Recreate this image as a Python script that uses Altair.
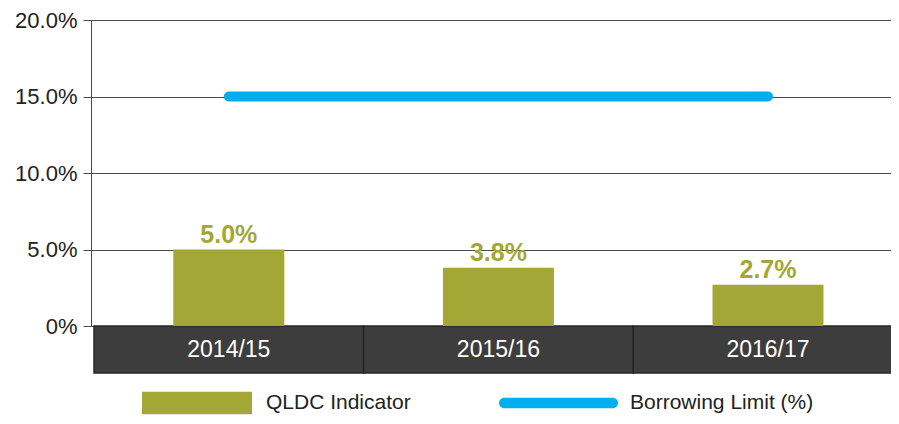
import altair as alt
import pandas as pd

years = ["2014/15", "2015/16", "2016/17"]
indicator = [5.0, 3.8, 2.7]
limit = [15.0, 15.0, 15.0]
bar_series = "QLDC Indicator"
line_series = "Borrowing Limit (%)"

OLIVE = "#a3a736"
BLUE = "#00aeef"
DARK = "#3d3d3d"
TEXT = "#222222"
FONT = "Liberation Sans"

idx = list(range(len(years)))
df = pd.DataFrame({
    "year": years,
    "pos": idx,
    "start": [i - 0.5 for i in idx],
    "end": [i + 0.5 for i in idx],
    "indicator": indicator,
    "limit": limit,
    "bar_series": [bar_series] * len(years),
    "line_series": [line_series] * len(years),
})
df["label"] = [f"{v:.1f}%" for v in indicator]

W = 800
BAND = 273.0
LEFT = -134.5 / BAND
xscale = alt.Scale(domain=[LEFT, LEFT + W / BAND], nice=False, zero=False)
x = alt.X("pos:Q", scale=xscale, axis=None)
yscale = alt.Scale(domain=[0, 20], nice=False, zero=True)

base = alt.Chart(df)

box = base.mark_rect(color=DARK, stroke="#262626", strokeWidth=1.5).encode(
    x=alt.X("start:Q", scale=xscale, axis=None), x2="end:Q",
    y=alt.value(306), y2=alt.value(353)
)

cat_text = base.mark_text(color="white", font=FONT, fontSize=23, baseline="middle").encode(
    x=x, y=alt.value(330), text="year:N"
)

bars = base.mark_bar(size=111).encode(
    x=x,
    y=alt.Y("indicator:Q", scale=yscale, title=None,
            axis=alt.Axis(values=[0, 5, 10, 15, 20],
                          labelExpr="datum.value == 0 ? '0%' : format(datum.value, '.1f') + '%'",
                          grid=True, gridColor="#4a4a4a", gridWidth=1,
                          domainColor="#4a4a4a", tickColor="#4a4a4a", tickSize=8,
                          labelPadding=6, labelFont=FONT, labelFontSize=22,
                          labelColor=TEXT)),
    color=alt.Color("bar_series:N",
                    scale=alt.Scale(domain=[bar_series], range=[OLIVE]),
                    legend=alt.Legend(orient="none", legendX=51, legendY=328, title=None,
                                      symbolType="M-1,-0.206H1V0.206H-1Z", symbolSize=12100,
                                      symbolStrokeWidth=0, symbolOpacity=1,
                                      labelFont=FONT, labelFontSize=21, labelColor=TEXT,
                                      labelOffset=14, labelLimit=400)),
)

bar_labels = base.mark_text(font=FONT, fontSize=25, fontWeight="bold", color=OLIVE,
                            baseline="bottom", dy=-2).encode(
    x=x, y=alt.Y("indicator:Q", scale=yscale), text="label:N"
)

capsule = ("M-0.912,-0.088H0.912A0.088,0.088 0 0 1 0.912,0.088"
           "H-0.912A0.088,0.088 0 0 1 -0.912,-0.088Z")

line = base.mark_line(strokeWidth=10, strokeCap="round").encode(
    x=x,
    y=alt.Y("limit:Q", scale=yscale),
    stroke=alt.Stroke("line_series:N",
                      scale=alt.Scale(domain=[line_series], range=[BLUE]),
                      legend=alt.Legend(orient="none", legendX=408, legendY=323.5, title=None,
                                        symbolType=capsule, symbolSize=14161,
                                        symbolFillColor=BLUE, symbolStrokeWidth=0,
                                        labelFont=FONT, labelFontSize=21, labelColor=TEXT,
                                        labelOffset=12, labelLimit=400)),
)

chart = alt.layer(box, bars, cat_text, bar_labels, line).properties(
    width=W, height=306,
    autosize=alt.AutoSizeParams(type="none"),
    padding={"left": 83, "top": 12, "right": 0, "bottom": 90},
).configure_view(stroke=None).configure(background="white")

chart.save("out.html", embed_options={"renderer": "svg", "actions": False})
